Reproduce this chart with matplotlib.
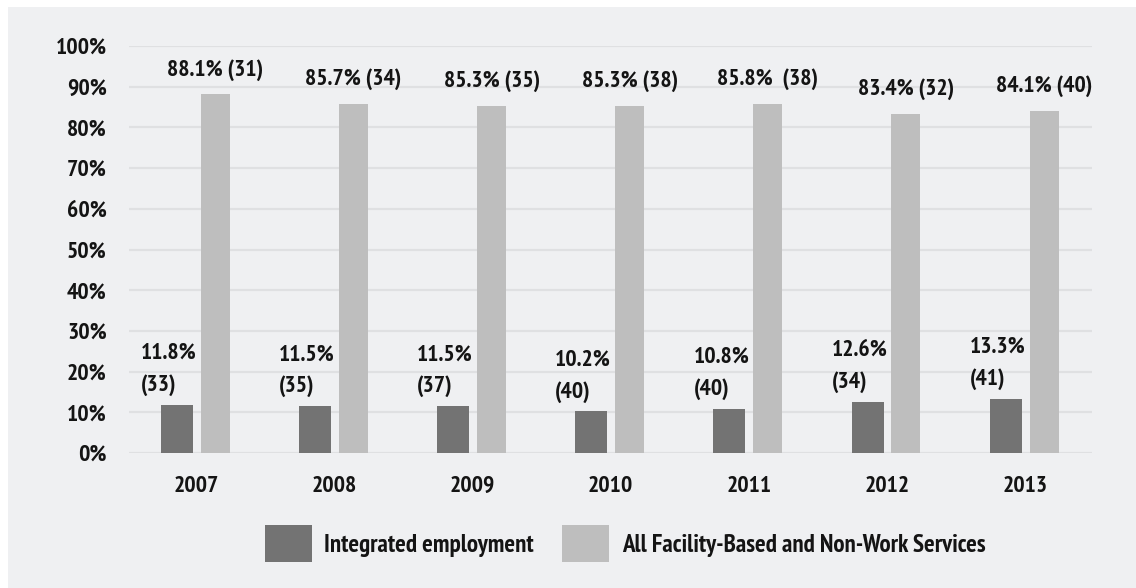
import matplotlib
matplotlib.use("Agg")
import matplotlib.pyplot as plt
import numpy as np
from matplotlib.patches import Rectangle

years = ["2007", "2008", "2009", "2010", "2011", "2012", "2013"]
integrated = [11.8, 11.5, 11.5, 10.2, 10.8, 12.6, 13.3]
integrated_n = [33, 35, 37, 40, 40, 34, 41]
facility = [88.1, 85.7, 85.3, 85.3, 85.8, 83.4, 84.1]
facility_labels = ["88.1% (31)", "85.7% (34)", "85.3% (35)", "85.3% (38)",
                   "85.8%  (38)", "83.4% (32)", "84.1% (40)"]
yticks = list(range(0, 101, 10))
series_names = ["Integrated employment", "All Facility-Based and Non-Work Services"]

DARK = "#737373"
LIGHT = "#bebebe"
BG = "#eff0f2"
GRID = "#dfe0e2"
TXT = "#141414"
FONT = ["PT Sans Narrow", "DejaVu Sans"]
FS = 17

plt.rcParams["font.family"] = FONT
plt.rcParams["font.weight"] = "bold"

fig = plt.figure(figsize=(11.36, 5.88), dpi=100, facecolor="white")
fig.patches.append(Rectangle((8 / 1136, 0), 1, 1 - 7 / 588, transform=fig.transFigure,
                             facecolor=BG, edgecolor="none", zorder=-10))

ax = fig.add_axes([129 / 1136, 1 - 453 / 588, (1092 - 129) / 1136, (453 - 46) / 588])
ax.set_facecolor("none")

x = np.arange(len(years))
off = 0.139
ax.bar(x - off, integrated, width=0.232, color=DARK, zorder=3, label=series_names[0])
ax.bar(x + off, facility, width=0.21, color=LIGHT, zorder=3, label=series_names[1])

for i in range(len(years)):
    ax.text(x[i] + off, facility[i] + 4.67, facility_labels[i], ha="center", va="baseline",
            fontsize=FS, fontweight="bold", color=TXT)
    ax.text(x[i] - 0.40, integrated[i] + 11.3, f"{integrated[i]:.1f}%",
            ha="left", va="baseline", fontsize=FS, fontweight="bold", color=TXT)
    ax.text(x[i] - 0.40, integrated[i] + 3.44, f"({integrated_n[i]})",
            ha="left", va="baseline", fontsize=FS, fontweight="bold", color=TXT)

ax.set_xlim(-0.487, 6.486)
ax.set_ylim(0, 100)
ax.set_yticks(yticks)
ax.set_yticklabels([f"{t}%" for t in yticks])
ax.set_xticks(x)
ax.set_xticklabels(years)
for t in yticks:
    ax.axhline(t, color=GRID, lw=1.6, zorder=1)
for s in ax.spines.values():
    s.set_visible(False)
ax.tick_params(axis="both", length=0, labelsize=FS, colors=TXT)
ax.tick_params(axis="y", pad=16)
ax.tick_params(axis="x", pad=16.5)
for lbl in ax.get_xticklabels() + ax.get_yticklabels():
    lbl.set_fontweight("bold")

LFS = 18
leg = fig.legend(loc="center left", bbox_to_anchor=(242 / 1136, 1 - 543.5 / 588), ncol=2,
                 frameon=False, handlelength=1.88, handleheight=1.88,
                 handletextpad=0.52, columnspacing=1.1, borderpad=0.4,
                 prop={"family": FONT, "weight": "bold", "size": LFS})
for t in leg.get_texts():
    t.set_color(TXT)

fig.savefig("out.png", dpi=100, facecolor=fig.get_facecolor())
